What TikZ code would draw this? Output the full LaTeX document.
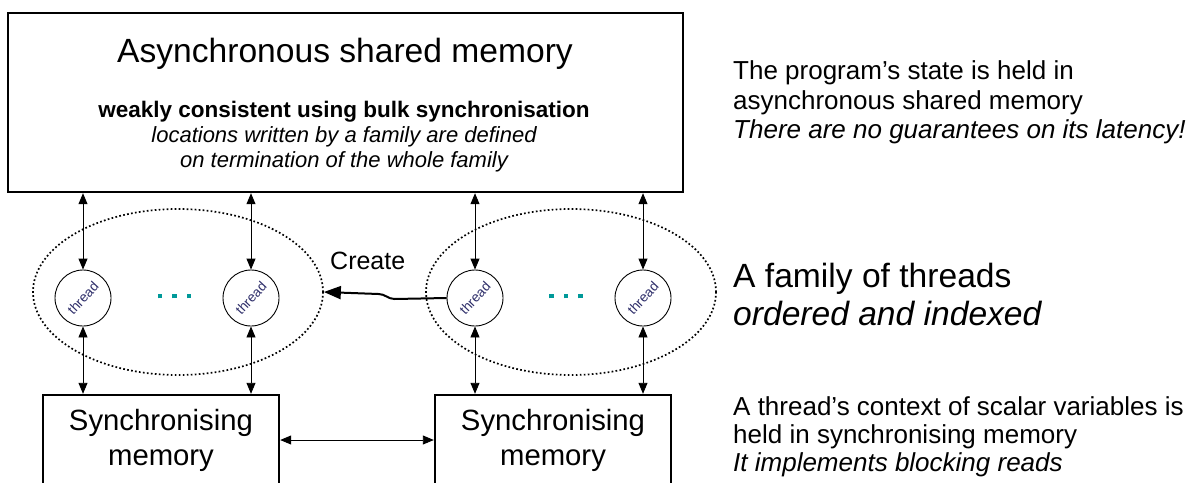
\documentclass[tikz,border=0pt]{standalone}
\usepackage{fontspec}
\setmainfont{Liberation Sans}
\usetikzlibrary{arrows.meta,shapes.geometric}
\definecolor{dotteal}{RGB}{0,153,153}
\definecolor{threadink}{RGB}{45,45,105}
\newcommand\tealdots{\textcolor{dotteal}{\rule{4.5pt}{4.5pt}\hspace{10pt}\rule{4.5pt}{4.5pt}\hspace{10pt}\rule{4.5pt}{4.5pt}}}
\tikzset{
  membox/.style={draw, line width=2.4pt, inner sep=0pt},
  thr/.style={circle, draw, line width=0.9pt, minimum size=56pt, inner sep=0pt,
    font=\fontsize{13.5}{13.5}\selectfont, text=threadink},
  fam/.style={ellipse, draw, line width=1.7pt, dash pattern=on 1.7pt off 2.3pt,
    inner sep=0pt, minimum width=290pt, minimum height=166pt},
  dbl/.style={{Triangle[length=11pt,width=9pt]}-{Triangle[length=11pt,width=9pt]}, line width=0.9pt},
  crt/.style={-{Triangle[length=17pt,width=13pt]}, line width=2pt, line join=round},
  txt/.style={inner sep=0pt, anchor=base},
  side/.style={inner sep=0pt, anchor=base west},
  fbig/.style={font=\fontsize{33.6}{40}\selectfont},
  fmid/.style={font=\fontsize{26}{30}\selectfont},
  fsync/.style={font=\fontsize{29.3}{34}\selectfont},
  fsmall/.style={font=\fontsize{22}{26}\selectfont},
  fbold/.style={font=\fontsize{22.5}{26}\selectfont\bfseries},
}
\begin{document}
\begin{tikzpicture}[x=1pt,y=-1pt]
\clip (0,0) rectangle (1198,482);
\fill[white] (0,0) rectangle (1198,482);

% shared memory box
\node[membox, minimum width=675pt, minimum height=179pt] (shm) at (345.5,102.5) {};
\node[txt, fbig] (shmtitle) at (345,62) {Asynchronous shared memory};
\node[txt, fbold] (shml1) at (344,117) {weakly consistent using bulk synchronisation};
\node[txt, fsmall] (shml2) at (344,142) {\itshape locations written by a family are defined};
\node[txt, fsmall] (shml3) at (344,167) {\itshape on termination of the whole family};

% families
\node[fam] (fam1) at (178,292) {};
\node[fam] (fam2) at (571,292) {};

% threads
\node[thr] (t1) at (83,298) {\rotatebox{47}{thread}};
\node[thr] (t2) at (251,298) {\rotatebox{47}{thread}};
\node[thr] (t3) at (475,298) {\rotatebox{47}{thread}};
\node[thr] (t4) at (643,298) {\rotatebox{47}{thread}};
\node[inner sep=0pt] (dots1) at (174.5,296) {\tealdots};
\node[inner sep=0pt] (dots2) at (566,296) {\tealdots};

% synchronising memories
\node[membox, minimum width=236pt, minimum height=90pt] (sync1) at (161,440) {};
\node[membox, minimum width=236pt, minimum height=90pt] (sync2) at (553,440) {};
\node[txt, fsync] (s1a) at (161,430) {Synchronising};
\node[txt, fsync] (s1b) at (161,465) {memory};
\node[txt, fsync] (s2a) at (553,430) {Synchronising};
\node[txt, fsync] (s2b) at (553,465) {memory};

% connectors
\foreach \t in {t1,t2,t3,t4} {
  \draw[dbl] (\t.north |- shm.south) -- (\t.north);
}
\draw[dbl] (t1.south) -- (t1.south |- sync1.north);
\draw[dbl] (t2.south) -- (t2.south |- sync1.north);
\draw[dbl] (t3.south) -- (t3.south |- sync2.north);
\draw[dbl] (t4.south) -- (t4.south |- sync2.north);
\draw[dbl] (sync1.east) -- (sync2.west);

% create
\draw[crt] (t3.west) -- ++(-52,1) to[out=180,in=0] ++(-16,-5) -- (fam1.east);
\node[side, font=\fontsize{25}{30}\selectfont] (create) at (330,269) {Create};

% side notes
\node[side, fmid] (n1a) at (733,79) {The program’s state is held in};
\node[side, fmid] (n1b) at (733,109) {asynchronous shared memory};
\node[side, fmid] (n1c) at (733,138) {\itshape There are no guarantees on its latency!};
\node[side, fbig] (n2a) at (733,287) {A family of threads};
\node[side, fbig] (n2b) at (733,325) {\itshape ordered and indexed};
\node[side, fmid] (n3a) at (733,415) {A thread’s context of scalar variables is};
\node[side, fmid] (n3b) at (733,443) {held in synchronising memory};
\node[side, fmid] (n3c) at (733,471) {\itshape It implements blocking reads};
\end{tikzpicture}
\end{document}
